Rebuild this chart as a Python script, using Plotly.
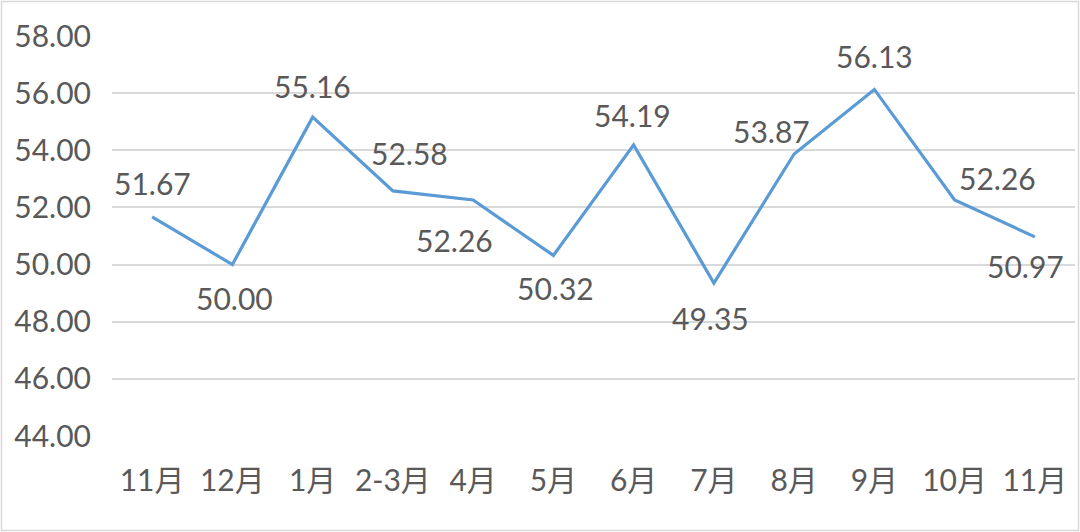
import plotly.graph_objects as go

months = ["11月", "12月", "1月", "2-3月", "4月", "5月", "6月", "7月", "8月", "9月", "10月", "11月"]
values = [51.67, 50.00, 55.16, 52.58, 52.26, 50.32, 54.19, 49.35, 53.87, 56.13, 52.26, 50.97]
y_ticks = [44, 46, 48, 50, 52, 54, 56, 58]

# label offsets in pixels (style only)
label_dx = [0, 2, 0, 17, -19, 2, -1, -3, -23, 0, 43, -9]
label_dy = [34, -33, 31, 38, -40, -33, 30, -35, 23, 33, 22, -29]

FONT = "Lato, 'Noto Sans CJK SC', sans-serif"
TXT = "#595959"
FS = 30

fig = go.Figure()
fig.add_trace(go.Scatter(
    x=list(range(len(months))), y=values, mode="lines",
    line=dict(color="#5B9BD5", width=3.2), hoverinfo="skip"))

for i, v in enumerate(values):
    fig.add_annotation(x=i, y=v, text=f"{v:.2f}", showarrow=False,
                       xshift=label_dx[i], yshift=label_dy[i],
                       font=dict(family=FONT, size=FS, color=TXT))

L, R, T, B = 112, 5, 36, 96
W, H = 1080, 532
pw, ph = W - L - R, H - T - B
fig.add_shape(type="rect", xref="paper", yref="paper",
              x0=(1.5 - L) / pw, x1=(1078.5 - L) / pw,
              y0=(H - B - 530.5) / ph, y1=(H - B - 1.5) / ph,
              line=dict(color="#D9D9D9", width=1.5), layer="below")

fig.update_layout(
    width=W, height=H, margin=dict(l=L, r=R, t=T, b=B),
    paper_bgcolor="white", plot_bgcolor="white", showlegend=False,
    font=dict(family=FONT, size=FS, color=TXT),
    xaxis=dict(tickmode="array", tickvals=list(range(len(months))), ticktext=months,
               range=[-0.5, len(months) - 0.5], showgrid=False, zeroline=False,
               showline=False, ticks="", ticklabelstandoff=24,
               tickfont=dict(family=FONT, size=FS, color=TXT)),
    yaxis=dict(range=[44, 58], tickvals=y_ticks, tickformat=".2f",
               showgrid=True, gridcolor="#D9D9D9", gridwidth=1.5, zeroline=False,
               showline=False, ticks="", ticklabelstandoff=20,
               tickfont=dict(family=FONT, size=FS, color=TXT)),
)

fig.write_html("out.html", config={"displayModeBar": False},
               post_script="document.body.style.margin='0';document.body.style.overflow='hidden';")
